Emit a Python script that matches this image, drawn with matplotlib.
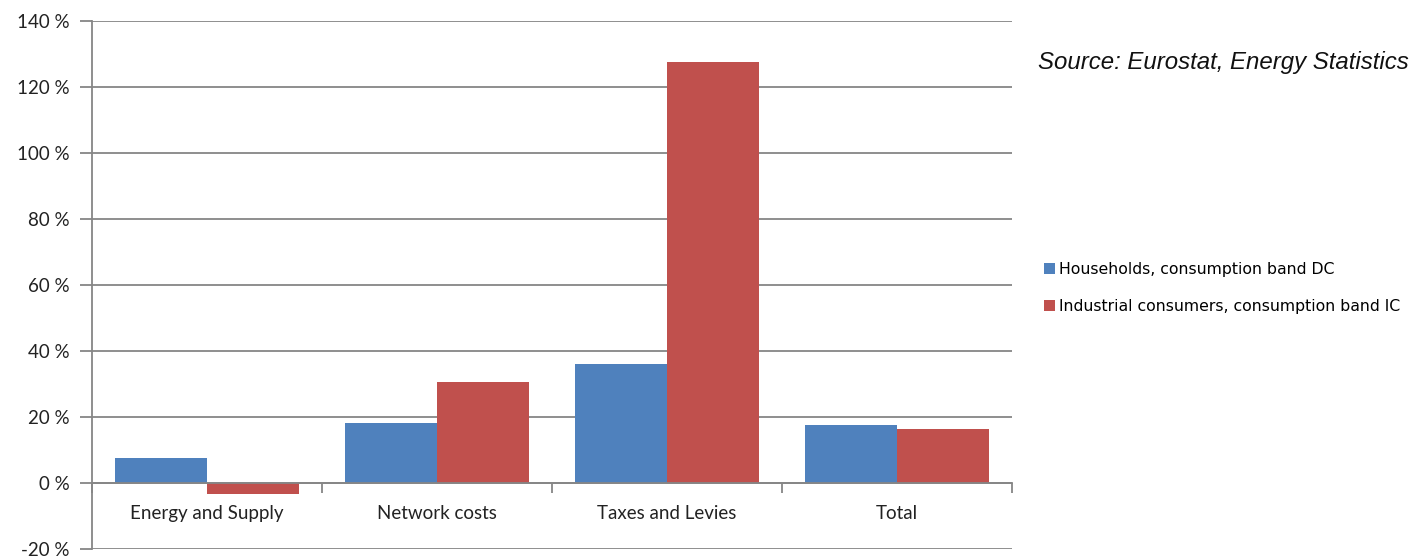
import numpy as np
import matplotlib
matplotlib.use('Agg')
import matplotlib.pyplot as plt
from matplotlib.ticker import FixedLocator

categories = ['Energy and Supply', 'Network costs', 'Taxes and Levies', 'Total']
households = [7.6, 18.2, 36.0, 17.6]
industrial = [-3.3, 30.6, 127.6, 16.4]
series_names = ['Households, consumption band DC',
                'Industrial consumers, consumption band IC']
yticks = [-20, 0, 20, 40, 60, 80, 100, 120, 140]

blue = '#4F81BD'
red = '#C0504D'
grid_col = '#868686'

fig = plt.figure(figsize=(14.16, 5.58), dpi=100)
ax = fig.add_axes([0.065, 0.0161, 0.6497, 0.9463])

x = np.arange(len(categories))
w = 0.4
ax.bar(x - w / 2, households, w, color=blue, label=series_names[0], zorder=3)
ax.bar(x + w / 2, industrial, w, color=red, label=series_names[1], zorder=3)

ax.set_xlim(-0.5, len(categories) - 0.5)
ax.set_ylim(-20, 140)

# y axis
ax.set_yticks(yticks)
ax.set_yticklabels([f'{v} %' for v in yticks], fontsize=13.5, family='Lato', color='#222222')
ax.yaxis.grid(True, color=grid_col, linewidth=1.3, zorder=0)
ax.tick_params(axis='y', direction='out', length=9, width=1.3, color=grid_col, pad=7)

# x axis at zero
ax.spines['bottom'].set_position(('data', 0))
ax.spines['bottom'].set_color(grid_col)
ax.spines['bottom'].set_linewidth(1.3)
ax.spines['bottom'].set_zorder(4)
ax.xaxis.set_major_locator(FixedLocator(np.arange(len(categories) + 1) - 0.5))
ax.xaxis.set_minor_locator(FixedLocator(x))
ax.set_xticklabels([], minor=False)
ax.set_xticklabels(categories, minor=True, fontsize=13.5, family='Lato', color='#222222')
ax.tick_params(axis='x', which='major', direction='out', length=7, width=1.3, color=grid_col)
ax.tick_params(axis='x', which='minor', length=0, pad=16)

for s in ['top', 'right']:
    ax.spines[s].set_visible(False)
ax.spines['left'].set_color(grid_col)
ax.spines['left'].set_linewidth(1.3)

fig.text(0.733, 0.877, 'Source: Eurostat, Energy Statistics', fontsize=17.3,
         style='italic', family='Liberation Sans', color='#111111')

fig.legend(loc='upper left', bbox_to_anchor=(0.727, 0.555), frameon=False,
           prop={'family': 'DejaVu Sans', 'size': 11.3}, handlelength=0.7, handleheight=0.7,
           handletextpad=0.3, labelspacing=1.35)

fig.savefig('out.png', dpi=100)
